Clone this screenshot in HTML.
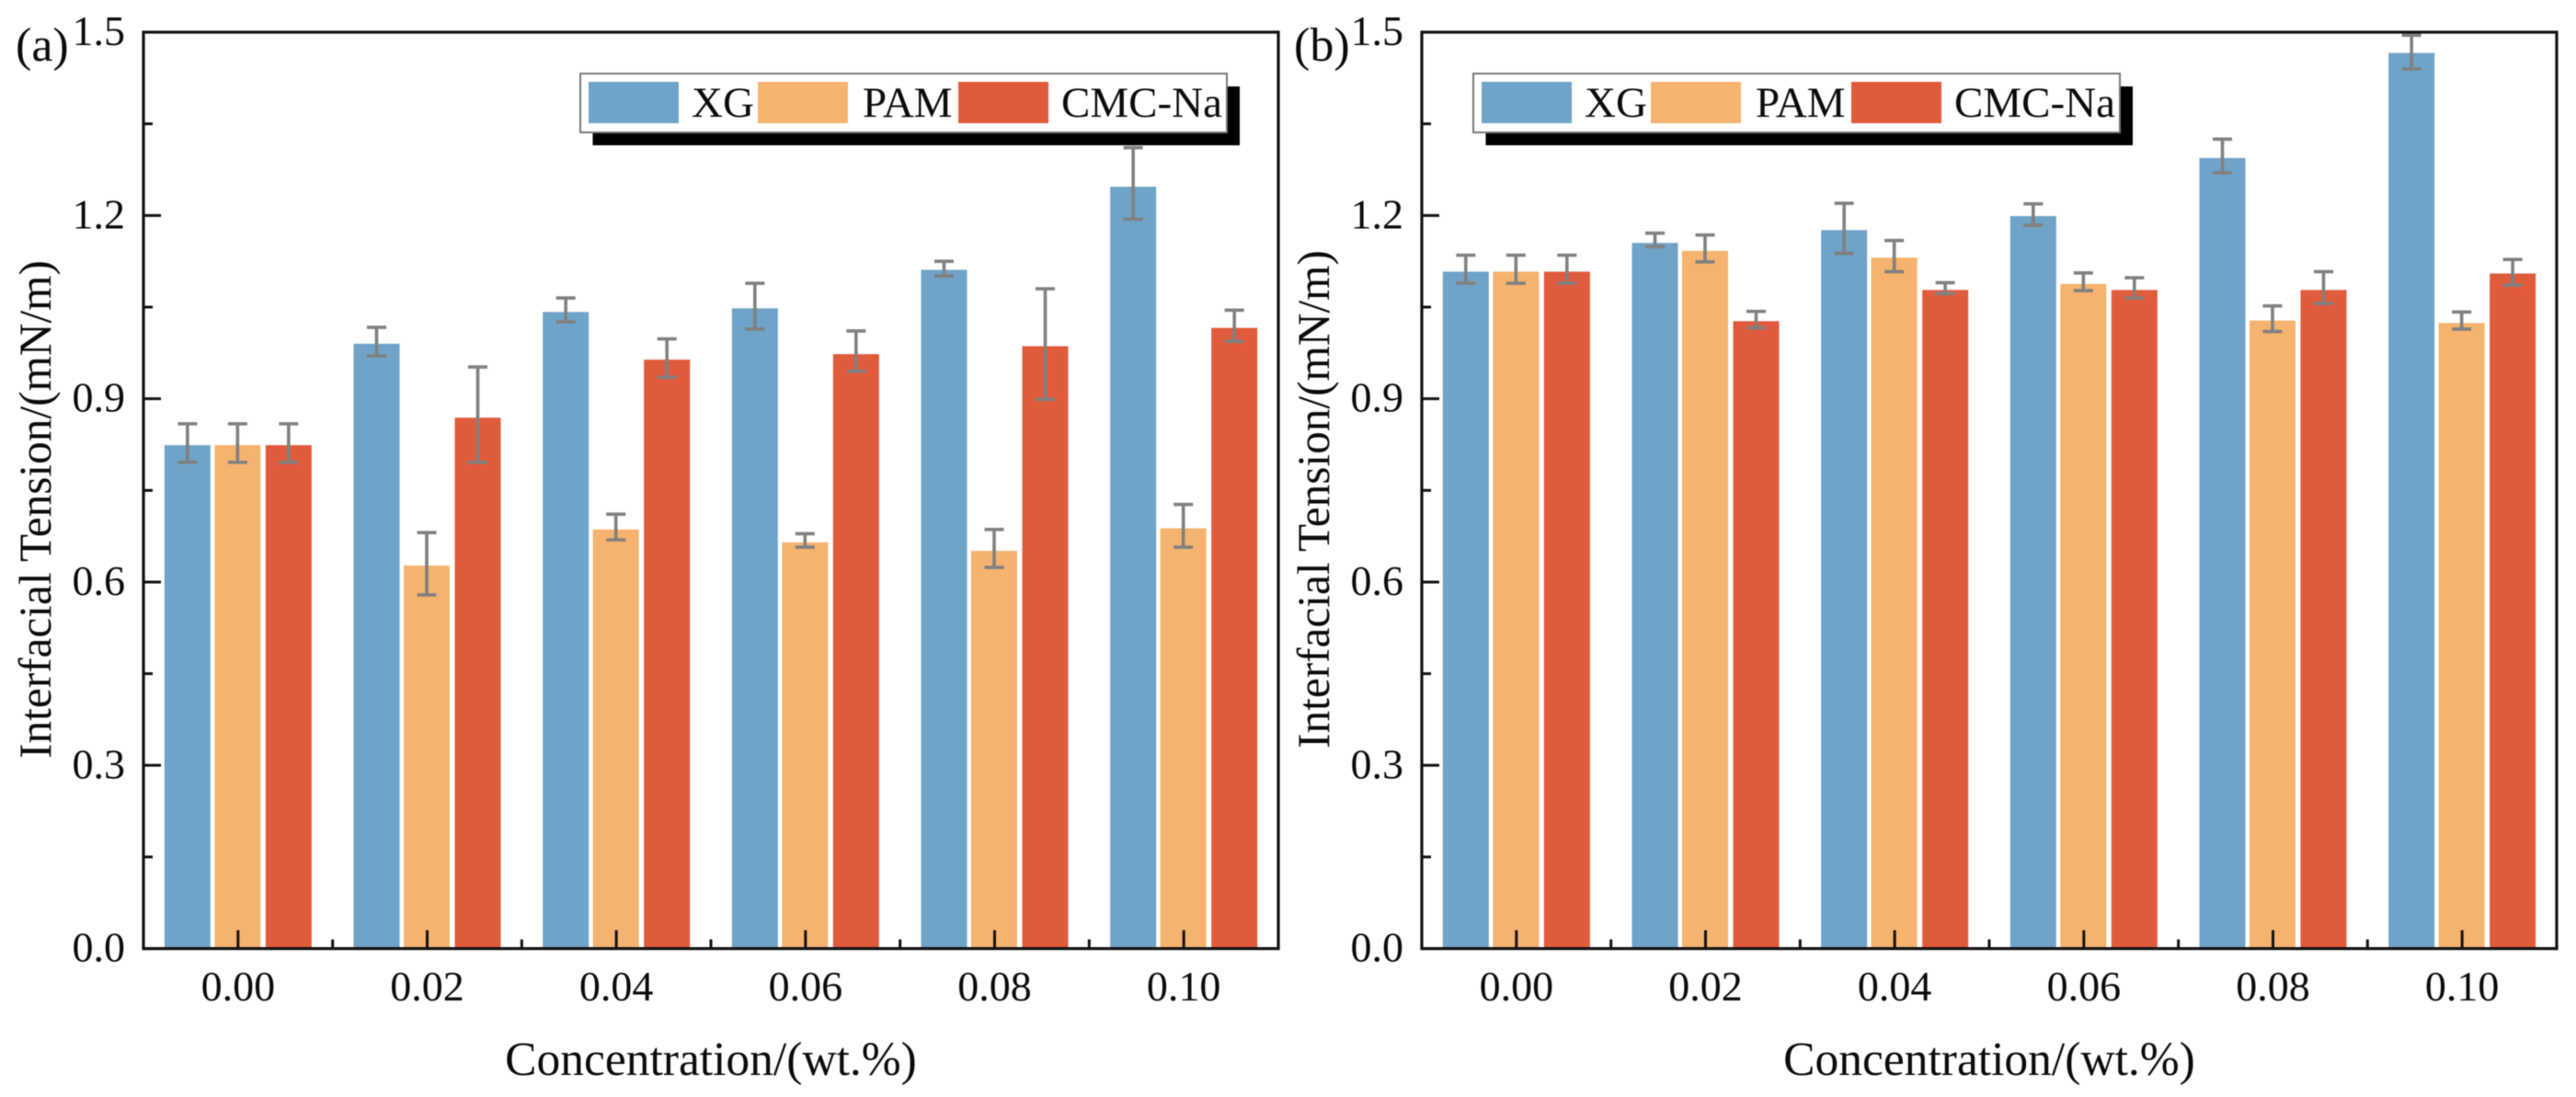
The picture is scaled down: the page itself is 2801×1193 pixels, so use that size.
<!DOCTYPE html>
<html lang="en">
<head>
<meta charset="utf-8">
<title>Interfacial Tension vs Concentration</title>
<style>
  html,body{margin:0;padding:0;background:#fff;}
  body{width:2801px;height:1193px;overflow:hidden;}
  svg{display:block;filter:blur(0.6px);}
  text{font-family:"Liberation Serif",serif;fill:#0a0a0a;}
</style>
</head>
<body>
<svg id="figure" xmlns="http://www.w3.org/2000/svg" width="2801" height="1193" viewBox="0 0 2801 1193">
  <rect x="0" y="0" width="2801" height="1193" fill="#ffffff"/>

  <g id="panel-a"></g>
  <g id="panel-b"></g>

  <text x="17" y="66" font-size="52">(a)</text>
  <text x="1407" y="66" font-size="52">(b)</text>

  <text x="773" y="1169" font-size="51.5" text-anchor="middle">Concentration/(wt.%)</text>
  <text x="2163" y="1169" font-size="51.5" text-anchor="middle">Concentration/(wt.%)</text>

  <text transform="translate(55,554) rotate(-90)" font-size="49.3" text-anchor="middle">Interfacial Tension/(mN/m)</text>
  <text transform="translate(1445,543) rotate(-90)" font-size="49.3" text-anchor="middle">Interfacial Tension/(mN/m)</text>

  <g>
    <rect x="644.5" y="94" width="703.5" height="64" fill="#000"/>
    <rect x="631" y="80" width="703" height="64" fill="#fff" stroke="#777" stroke-width="2"/>
    <rect x="640" y="89" width="98" height="45" fill="#6FA3C7"/>
    <text x="752" y="127" font-size="47">XG</text>
    <rect x="824" y="89" width="98" height="45" fill="#F5B36F"/>
    <text x="938" y="127" font-size="47">PAM</text>
    <rect x="1042" y="89" width="98" height="45" fill="#E05B3C"/>
    <text x="1154" y="127" font-size="47">CMC-Na</text>
  </g>
  <g transform="translate(971,0)">
    <rect x="644.5" y="94" width="703.5" height="64" fill="#000"/>
    <rect x="631" y="80" width="703" height="64" fill="#fff" stroke="#777" stroke-width="2"/>
    <rect x="640" y="89" width="98" height="45" fill="#6FA3C7"/>
    <text x="752" y="127" font-size="47">XG</text>
    <rect x="824" y="89" width="98" height="45" fill="#F5B36F"/>
    <text x="938" y="127" font-size="47">PAM</text>
    <rect x="1042" y="89" width="98" height="45" fill="#E05B3C"/>
    <text x="1154" y="127" font-size="47">CMC-Na</text>
  </g>
</svg>

<script>
// Shared categories and tick labels
const categories = ["0.00", "0.02", "0.04", "0.06", "0.08", "0.10"];
const yTickValues = [0, 0.3, 0.6, 0.9, 1.2, 1.5];
const yTickLabels = ["0.0", "0.3", "0.6", "0.9", "1.2", "1.5"];
const yMinorTickValues = [0.15, 0.45, 0.75, 1.05, 1.35];
const seriesNames = ["xg", "pam", "cmc-na"];

// Panel (a) values
const aXG = [0.824, 0.990, 1.042, 1.048, 1.111, 1.247];
const aPAM = [0.824, 0.627, 0.686, 0.665, 0.651, 0.688];
const aCMC = [0.824, 0.869, 0.964, 0.973, 0.986, 1.016];
const aXGHigh = [0.859, 1.017, 1.065, 1.089, 1.125, 1.311];
const aXGLow = [0.796, 0.970, 1.026, 1.014, 1.101, 1.194];
const aPAMHigh = [0.859, 0.681, 0.711, 0.679, 0.686, 0.727];
const aPAMLow = [0.796, 0.579, 0.669, 0.657, 0.624, 0.657];
const aCMCHigh = [0.859, 0.952, 0.998, 1.011, 1.080, 1.045];
const aCMCLow = [0.796, 0.796, 0.935, 0.945, 0.899, 0.994];

// Panel (b) values
const bXG = [1.108, 1.155, 1.176, 1.199, 1.294, 1.466];
const bPAM = [1.108, 1.142, 1.131, 1.088, 1.028, 1.024];
const bCMC = [1.108, 1.027, 1.078, 1.078, 1.078, 1.105];
const bXGHigh = [1.135, 1.171, 1.220, 1.219, 1.325, 1.495];
const bXGLow = [1.089, 1.149, 1.138, 1.184, 1.270, 1.440];
const bPAMHigh = [1.135, 1.168, 1.159, 1.106, 1.052, 1.042];
const bPAMLow = [1.089, 1.124, 1.108, 1.077, 1.010, 1.014];
const bCMCHigh = [1.135, 1.043, 1.090, 1.098, 1.108, 1.128];
const bCMCLow = [1.089, 1.016, 1.072, 1.065, 1.056, 1.086];

const SVGNS = "http://www.w3.org/2000/svg";
const colors = ["#6FA3C7", "#F5B36F", "#E05B3C"];
const barOffsets = [-55, -0.5, 55];
const barWidth = 50;
const plotTop = 35;
const plotBottom = 1031.6;
const plotWidth = 1234;

function mk(tag, attrs, parent) {
  const el = document.createElementNS(SVGNS, tag);
  for (const k in attrs) el.setAttribute(k, attrs[k]);
  parent.appendChild(el);
  return el;
}

function yScale(v) {
  return plotBottom - v * (plotBottom - plotTop) / 1.5;
}

function drawPanel(root, left, vals, highs, lows) {
  const xScale = function (i) { return left + plotWidth * (i + 0.5) / categories.length; };

  vals.forEach(function (series, s) {
    series.forEach(function (v, i) {
      const bar = mk("rect", {
        x: xScale(i) + barOffsets[s] - barWidth / 2,
        y: yScale(v),
        width: barWidth,
        height: plotBottom - yScale(v),
        fill: colors[s]
      }, root);
      
      
    });
  });

  vals.forEach(function (series, s) {
    series.forEach(function (v, i) {
      const cx = xScale(i) + barOffsets[s];
      const hi = yScale(highs[s][i]);
      const lo = yScale(lows[s][i]);
      const err = mk("path", {
        d: "M" + cx + " " + hi + "V" + lo + "M" + (cx - 10.5) + " " + hi + "H" + (cx + 10.5) + "M" + (cx - 10.5) + " " + lo + "H" + (cx + 10.5),
        stroke: "#808080",
        "stroke-width": 3.6,
        fill: "none"
      }, root);
      
      
    });
  });

  const frame = mk("rect", {
    x: left, y: plotTop, width: plotWidth, height: plotBottom - plotTop,
    fill: "none", stroke: "#111", "stroke-width": 3.2
  }, root);
  
  

  yTickValues.forEach(function (v, i) {
    const y = yScale(v);
    const t = mk("line", { x1: left, x2: left + 19, y1: y, y2: y, stroke: "#111", "stroke-width": 3 }, root);
    
    
    const lab = mk("text", { x: left - 20, y: y + 14, "font-size": 46, "text-anchor": "end" }, root);
    
    
    lab.textContent = yTickLabels[i];
  });

  yMinorTickValues.forEach(function (v) {
    const y = yScale(v);
    const t = mk("line", { x1: left, x2: left + 10, y1: y, y2: y, stroke: "#111", "stroke-width": 3 }, root);
    
    
  });

  categories.forEach(function (c, i) {
    const x = xScale(i);
    const t = mk("line", { x1: x, x2: x, y1: plotBottom, y2: plotBottom - 20, stroke: "#111", "stroke-width": 3 }, root);
    
    
    const lab = mk("text", { x: x, y: 1088, "font-size": 46, "text-anchor": "middle" }, root);
    
    
    lab.textContent = c;
    if (i < categories.length - 1) {
      const mx = xScale(i + 0.5);
      const m = mk("line", { x1: mx, x2: mx, y1: plotBottom, y2: plotBottom - 10, stroke: "#111", "stroke-width": 3 }, root);
      
      
    }
  });
}

drawPanel(document.getElementById("panel-a"), 156,
  [aXG, aPAM, aCMC], [aXGHigh, aPAMHigh, aCMCHigh], [aXGLow, aPAMLow, aCMCLow]);
drawPanel(document.getElementById("panel-b"), 1546,
  [bXG, bPAM, bCMC], [bXGHigh, bPAMHigh, bCMCHigh], [bXGLow, bPAMLow, bCMCLow]);
</script>
</body>
</html>
